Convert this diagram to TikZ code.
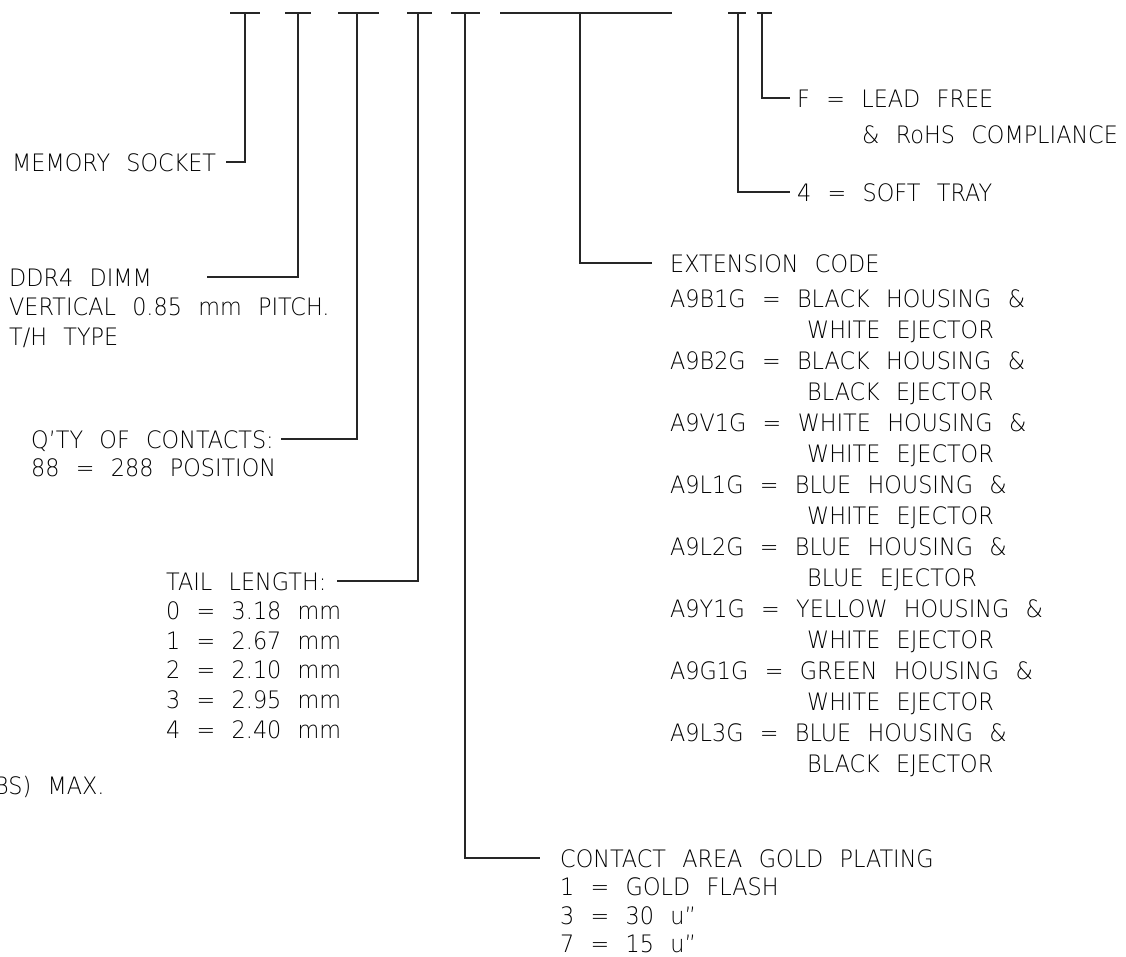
\documentclass[tikz,border=0pt]{standalone}
\usepackage{fontspec}
\setmainfont{DejaVu Sans ExtraLight}[WordSpace=2.3,FakeStretch=0.93]
\usetikzlibrary{positioning}

\tikzset{
  lbl/.style={anchor=base west, inner sep=0pt, font=\fontsize{24}{28}\selectfont},
  lead/.style={line width=1.1pt, black!85},
}

\begin{document}
\begin{tikzpicture}[x=1pt,y=-1pt]
        \useasboundingbox (0,0) rectangle (1126,956);
        % code positions along the top
        \coordinate (t1) at (245,13);
        \coordinate (t2) at (298,13);
        \coordinate (t3) at (357,13);
        \coordinate (t4) at (418,13);
        \coordinate (t5) at (465,13);
        \coordinate (t6) at (580,13);
        \coordinate (t7) at (738,13);
        \coordinate (t8) at (762,13);
        \draw[lead] (230,13) -- (260,13);
        \draw[lead] (285,13) -- (311,13);
        \draw[lead] (338,13) -- (379,13);
        \draw[lead] (407,13) -- (432,13);
        \draw[lead] (451,13) -- (480,13);
        \draw[lead] (500,13) -- (672,13);
        \draw[lead] (728,13) -- (746,13);
        \draw[lead] (757,13) -- (772,13);

        % left side
        \node[lbl] (mem) at (12,171) {MEMORY SOCKET};
        \node[lbl] (ddr) at (9,286) {DDR4 DIMM};
        \node[lbl] (vert) at (9,315) {VERTICAL 0.85 mm PITCH.};
        \node[lbl] (th) at (9,345) {T/H TYPE};
        \node[lbl] (qty) at (31,448) {Q'TY OF CONTACTS:};
        \node[lbl] (pos) at (31,476) {88 = 288 POSITION};
        \node[lbl] (tail) at (166,590) {TAIL LENGTH:};
        \node[lbl] (tl0) at (166,619) {0 = 3.18 mm};
        \node[lbl] (tl1) at (166,649) {1 = 2.67 mm};
        \node[lbl] (tl2) at (166,678) {2 = 2.10 mm};
        \node[lbl] (tl3) at (166,708) {3 = 2.95 mm};
        \node[lbl] (tl4) at (166,738) {4 = 2.40 mm};
        \node[lbl] (max) at (-6,794) {BS) MAX.};

        % plating
        \node[lbl] (gold) at (560,867) {CONTACT AREA GOLD PLATING};
        \node[lbl] (g1) at (560,895) {1 = GOLD FLASH};
        \node[lbl] (g3) at (560,924) {3 = 30 u”};
        \node[lbl] (g7) at (560,952) {7 = 15 u”};

        % right side
        \node[lbl] (lf) at (797,107) {F = LEAD FREE};
        \node[lbl] (rohs) at (862,143) {\& RoHS COMPLIANCE};
        \node[lbl] (tray) at (797,201) {4 = SOFT TRAY};
        \node[lbl] (ext) at (670,272) {EXTENSION CODE};
        \foreach \cd/\hcol/\ecol [count=\i from 0] in {A9B1G/BLACK/WHITE, A9B2G/BLACK/BLACK,
            A9V1G/WHITE/WHITE, A9L1G/BLUE/WHITE, A9L2G/BLUE/BLUE, A9Y1G/YELLOW/WHITE,
            A9G1G/GREEN/WHITE, A9L3G/BLUE/BLACK}{
          \node[lbl] (code\i) at (670,{307+62*\i}) {\cd{} = \hcol{} HOUSING \&};
          \node[lbl] (ej\i) at (807,{338+62*\i}) {\ecol{} EJECTOR};
        }

        % leaders
        \coordinate (e1) at (226,162);
        \coordinate (e2) at (207,277);
        \coordinate (e3) at (281,439);
        \coordinate (e4) at (337,581);
        \coordinate (e5) at (540,858);
        \coordinate (e6) at (652,263);
        \coordinate (e7) at (790,192);
        \coordinate (e8) at (790,98);
        \draw[lead] (t1) |- (e1);
        \draw[lead] (t2) |- (e2);
        \draw[lead] (t3) |- (e3);
        \draw[lead] (t4) |- (e4);
        \draw[lead] (t5) |- (e5);
        \draw[lead] (t6) |- (e6);
        \draw[lead] (t7) |- (e7);
        \draw[lead] (t8) |- (e8);
      \end{tikzpicture}
\end{document}
